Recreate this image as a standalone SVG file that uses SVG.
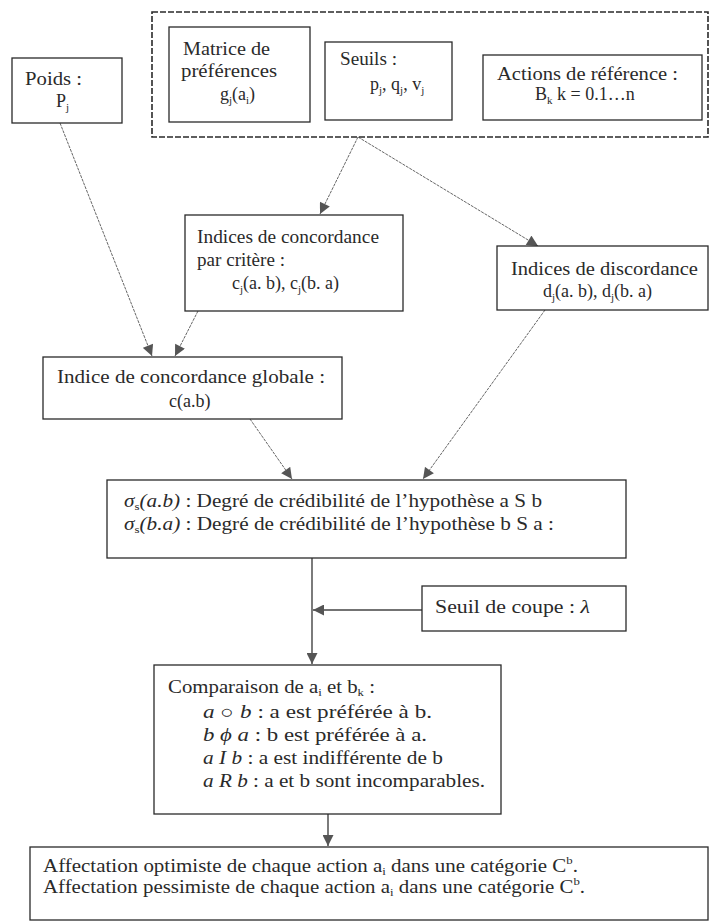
<svg xmlns="http://www.w3.org/2000/svg" width="711" height="922" viewBox="0 0 711 922">
<defs>
<style>
.box{fill:#fff;stroke:#2a2a2a;stroke-width:1.3}
.dash{fill:none;stroke:#2a2a2a;stroke-width:1.6;stroke-dasharray:6 2}
.t{font-family:"Times New Roman","Liberation Serif","DejaVu Serif",serif;font-size:18px;fill:#2a2a2a}
.s{font-size:11px}
.i{font-style:italic}
.c{stroke:#666;stroke-width:1;fill:none;stroke-dasharray:3 1}
.v{stroke:#444;stroke-width:1.4;fill:none}
</style>
<marker id="ah" viewBox="0 0 10 10" refX="10" refY="5" markerWidth="12" markerHeight="11" markerUnits="userSpaceOnUse" orient="auto">
<path d="M0,0 L10,5 L0,10 z" fill="#555"/>
</marker>
</defs>
<rect width="711" height="922" fill="#fff"/>

<g id="connectors">
<line class="c" x1="60" y1="123" x2="152" y2="356" marker-end="url(#ah)"/>
<line class="c" x1="198" y1="311" x2="175" y2="356" marker-end="url(#ah)"/>
<line class="c" x1="358" y1="137" x2="320" y2="214" marker-end="url(#ah)"/>
<line class="c" x1="358" y1="137" x2="538" y2="246" marker-end="url(#ah)"/>
<line class="c" x1="545" y1="310" x2="423" y2="479" marker-end="url(#ah)"/>
<line class="c" x1="250" y1="419" x2="292" y2="479" marker-end="url(#ah)"/>
<line class="v" x1="312" y1="558" x2="312" y2="664" marker-end="url(#ah)"/>
<line class="v" x1="422" y1="610" x2="313" y2="610" marker-end="url(#ah)"/>
<line class="v" x1="328" y1="814" x2="328" y2="846" marker-end="url(#ah)"/>
</g>

<g id="donnees">
<rect class="dash" x="152" y="12" width="556" height="125"/>
</g>

<g id="poids">
<rect class="box" x="12" y="58" width="110" height="65"/>
<text class="t" x="25" y="85" textLength="57" lengthAdjust="spacingAndGlyphs">Poids :</text>
<text class="t" x="56" y="107">P<tspan class="s" dy="4">j</tspan></text>
</g>

<g id="matrice">
<rect class="box" x="169" y="27" width="141" height="95"/>
<text class="t" x="183" y="55" textLength="87" lengthAdjust="spacingAndGlyphs">Matrice de</text>
<text class="t" x="181" y="77" textLength="96" lengthAdjust="spacingAndGlyphs">préférences</text>
<text class="t" x="220" y="100">g<tspan class="s" dy="4">j</tspan><tspan dy="-4">(a</tspan><tspan class="s" dy="4">i</tspan><tspan dy="-4">)</tspan></text>
</g>

<g id="seuils">
<rect class="box" x="325" y="42" width="127" height="78"/>
<text class="t" x="340" y="65" textLength="57" lengthAdjust="spacingAndGlyphs">Seuils :</text>
<text class="t" x="370" y="90">p<tspan class="s" dy="4">j</tspan><tspan dy="-4">, q</tspan><tspan class="s" dy="4">j</tspan><tspan dy="-4">, v</tspan><tspan class="s" dy="4">j</tspan></text>
</g>

<g id="actions">
<rect class="box" x="483" y="55" width="219" height="65"/>
<text class="t" x="497" y="80" textLength="181" lengthAdjust="spacingAndGlyphs">Actions de référence :</text>
<text class="t" x="535" y="100">B<tspan class="s" dy="4">k</tspan><tspan dy="-4"> k = 0.1…n</tspan></text>
</g>

<g id="concordance-critere">
<rect class="box" x="185" y="215" width="218" height="96"/>
<text class="t" x="197" y="243" textLength="182" lengthAdjust="spacingAndGlyphs">Indices de concordance</text>
<text class="t" x="197" y="266" textLength="88" lengthAdjust="spacingAndGlyphs">par critère :</text>
<text class="t" x="232" y="289">c<tspan class="s" dy="4">j</tspan><tspan dy="-4">(a. b), c</tspan><tspan class="s" dy="4">j</tspan><tspan dy="-4">(b. a)</tspan></text>
</g>

<g id="discordance">
<rect class="box" x="497" y="246" width="211" height="64"/>
<text class="t" x="511" y="275" textLength="187" lengthAdjust="spacingAndGlyphs">Indices de discordance</text>
<text class="t" x="543" y="297">d<tspan class="s" dy="4">j</tspan><tspan dy="-4">(a. b), d</tspan><tspan class="s" dy="4">j</tspan><tspan dy="-4">(b. a)</tspan></text>
</g>

<g id="concordance-globale">
<rect class="box" x="43" y="357" width="299" height="62"/>
<text class="t" x="57" y="383" textLength="268" lengthAdjust="spacingAndGlyphs">Indice de concordance globale :</text>
<text class="t" x="169" y="407">c(a.b)</text>
</g>

<g id="credibilite">
<rect class="box" x="107" y="480" width="519" height="78"/>
<text class="t" x="124" y="507" textLength="418" lengthAdjust="spacingAndGlyphs"><tspan class="i">σ</tspan><tspan class="s" dy="3">s</tspan><tspan class="i" dy="-3">(a.b)</tspan> : Degré de crédibilité de l’hypothèse a S b</text>
<text class="t" x="124" y="530" textLength="430" lengthAdjust="spacingAndGlyphs"><tspan class="i">σ</tspan><tspan class="s" dy="3">s</tspan><tspan class="i" dy="-3">(b.a)</tspan> : Degré de crédibilité de l’hypothèse b S a :</text>
</g>

<g id="seuil-coupe">
<rect class="box" x="422" y="586" width="204" height="45"/>
<text class="t" x="435" y="613" textLength="155" lengthAdjust="spacingAndGlyphs">Seuil de coupe : <tspan class="i">λ</tspan></text>
</g>

<g id="comparaison">
<rect class="box" x="154" y="665" width="347" height="149"/>
<text class="t" x="168" y="693" textLength="207" lengthAdjust="spacingAndGlyphs">Comparaison de a<tspan class="s" dy="3">i</tspan><tspan dy="-3"> et b</tspan><tspan class="s" dy="3">k</tspan><tspan dy="-3"> :</tspan></text>
<text class="t" x="203" y="718" textLength="229" lengthAdjust="spacingAndGlyphs"><tspan class="i">a ○ b</tspan> : a est préférée à b.</text>
<text class="t" x="203" y="741" textLength="224" lengthAdjust="spacingAndGlyphs"><tspan class="i">b ϕ a</tspan> : b est préférée à a.</text>
<text class="t" x="203" y="764" textLength="240" lengthAdjust="spacingAndGlyphs"><tspan class="i">a I b</tspan> : a est indifférente de b</text>
<text class="t" x="203" y="787" textLength="282" lengthAdjust="spacingAndGlyphs"><tspan class="i">a R b</tspan> : a et b sont incomparables.</text>
</g>

<g id="affectation">
<rect class="box" x="30" y="847" width="678" height="73"/>
<text class="t" x="43" y="872" textLength="535" lengthAdjust="spacingAndGlyphs">Affectation optimiste de chaque action a<tspan class="s" dy="3">i</tspan><tspan dy="-3"> dans une catégorie C</tspan><tspan class="s" dy="-8">b</tspan><tspan dy="8">.</tspan></text>
<text class="t" x="43" y="893" textLength="542" lengthAdjust="spacingAndGlyphs">Affectation pessimiste de chaque action a<tspan class="s" dy="3">i</tspan><tspan dy="-3"> dans une catégorie C</tspan><tspan class="s" dy="-8">b</tspan><tspan dy="8">.</tspan></text>
</g>
</svg>
